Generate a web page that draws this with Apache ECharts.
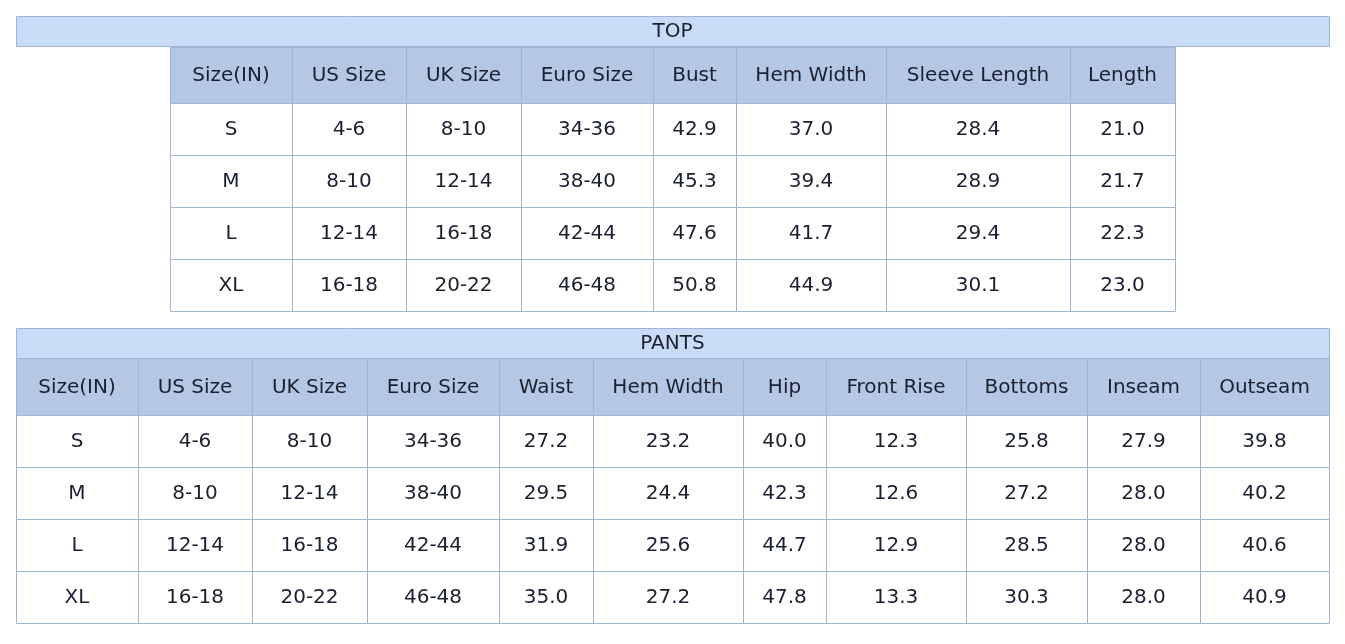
<!DOCTYPE html>
<html><head><meta charset="utf-8">
<script src="https://cdn.jsdelivr.net/npm/echarts@6/dist/echarts.min.js"></script>
<style>html,body{margin:0;background:#fff}#c{width:1345px;height:644px}</style>
</head><body><div id="c"></div>
<script>
// size chart data
var sizes = ['S', 'M', 'L', 'XL'];
var usSizes = ['4-6', '8-10', '12-14', '16-18'];
var ukSizes = ['8-10', '12-14', '16-18', '20-22'];
var euroSizes = ['34-36', '38-40', '42-44', '46-48'];

var topHeaders = ['Size(IN)', 'US Size', 'UK Size', 'Euro Size', 'Bust', 'Hem Width', 'Sleeve Length', 'Length'];
var topBust = ['42.9', '45.3', '47.6', '50.8'];
var topHem = ['37.0', '39.4', '41.7', '44.9'];
var topSleeve = ['28.4', '28.9', '29.4', '30.1'];
var topLength = ['21.0', '21.7', '22.3', '23.0'];

var pantsHeaders = ['Size(IN)', 'US Size', 'UK Size', 'Euro Size', 'Waist', 'Hem Width', 'Hip', 'Front Rise', 'Bottoms', 'Inseam', 'Outseam'];
var pantsWaist = ['27.2', '29.5', '31.9', '35.0'];
var pantsHem = ['23.2', '24.4', '25.6', '27.2'];
var pantsHip = ['40.0', '42.3', '44.7', '47.8'];
var pantsRise = ['12.3', '12.6', '12.9', '13.3'];
var pantsBottoms = ['25.8', '27.2', '28.5', '30.3'];
var pantsInseam = ['27.9', '28.0', '28.0', '28.0'];
var pantsOutseam = ['39.8', '40.2', '40.6', '40.9'];

var BORDER = '#9fb4d6', TITLE_BG = '#c9dcf7', HEAD_BG = '#b4c8e6', TXT = '#1a2030';
var FONT = 'DejaVu Sans';

function makeTable(title, titleBox, colX, headTop, headBot, rowH, headers, columns) {
  var els = [];
  els.push({type: 'rect', shape: {x: titleBox[0] + 0.5, y: titleBox[1] + 0.5, width: titleBox[2] - titleBox[0], height: titleBox[3] - titleBox[1]},
    style: {fill: TITLE_BG, stroke: BORDER, lineWidth: 1}});
  els.push({type: 'text', x: (titleBox[0] + titleBox[2]) / 2, y: (titleBox[1] + titleBox[3]) / 2 + 1,
    style: {text: title, fill: TXT, font: '20px ' + FONT, align: 'center', verticalAlign: 'middle'}});
  var rows = columns[0].length;
  for (var c = 0; c < headers.length; c++) {
    var x0 = colX[c], x1 = colX[c + 1], cx = (x0 + x1) / 2;
    els.push({type: 'rect', shape: {x: x0 + 0.5, y: headTop + 0.5, width: x1 - x0, height: headBot - headTop},
      style: {fill: HEAD_BG, stroke: BORDER, lineWidth: 1}});
    els.push({type: 'text', x: cx, y: (headTop + headBot) / 2 + 1,
      style: {text: headers[c], fill: TXT, font: '20px ' + FONT, align: 'center', verticalAlign: 'middle'}});
    for (var r = 0; r < rows; r++) {
      var y0 = headBot + r * rowH;
      els.push({type: 'rect', shape: {x: x0 + 0.5, y: y0 + 0.5, width: x1 - x0, height: rowH},
        style: {fill: '#fff', stroke: BORDER, lineWidth: 1}});
      els.push({type: 'text', x: cx, y: y0 + rowH / 2 + 1,
        style: {text: columns[c][r], fill: TXT, font: '20px ' + FONT, align: 'center', verticalAlign: 'middle'}});
    }
  }
  return els;
}

var chart = echarts.init(document.getElementById('c'));
var elements = [].concat(
  makeTable('TOP', [16, 16, 1329, 46], [170, 292, 406, 521, 653, 736, 886, 1070, 1175], 47, 103, 52,
    topHeaders, [sizes, usSizes, ukSizes, euroSizes, topBust, topHem, topSleeve, topLength]),
  makeTable('PANTS', [16, 328, 1329, 358], [16, 138, 252, 367, 499, 593, 743, 826, 966, 1087, 1200, 1329], 358, 415, 52,
    pantsHeaders, [sizes, usSizes, ukSizes, euroSizes, pantsWaist, pantsHem, pantsHip, pantsRise, pantsBottoms, pantsInseam, pantsOutseam])
);
chart.setOption({animation: false, graphic: {elements: elements}});
</script></body></html>
